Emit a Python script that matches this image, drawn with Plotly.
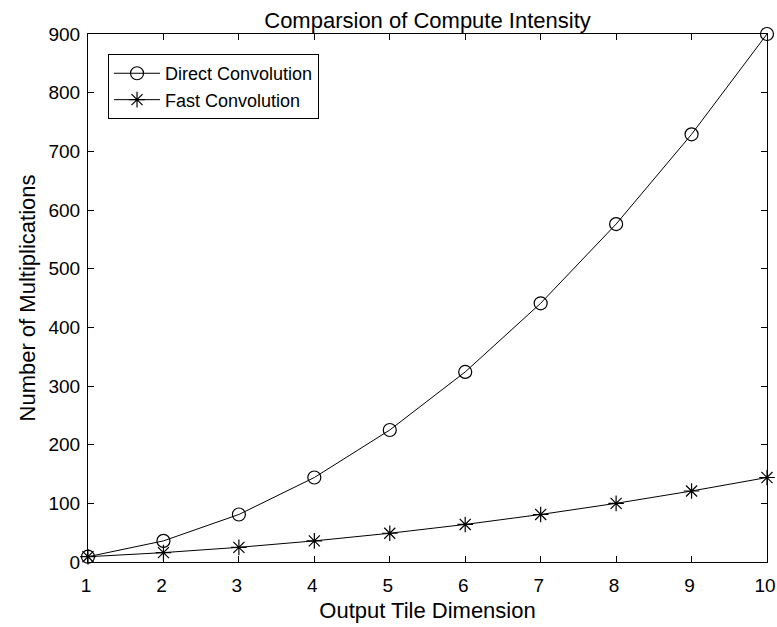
import plotly.graph_objects as go

tile_dim = [1, 2, 3, 4, 5, 6, 7, 8, 9, 10]
direct_conv = [9, 36, 81, 144, 225, 324, 441, 576, 729, 900]
fast_conv = [9, 16, 25, 36, 49, 64, 81, 100, 121, 144]
x_ticks = [1, 2, 3, 4, 5, 6, 7, 8, 9, 10]
y_ticks = [0, 100, 200, 300, 400, 500, 600, 700, 800, 900]

FONT = "Liberation Sans, Arial, sans-serif"
W, H = 777, 627

fig = go.Figure()
fig.add_trace(go.Scatter(
    x=tile_dim, y=direct_conv, mode="lines+markers", name="Direct Convolution",
    line=dict(color="black", width=1),
    marker=dict(symbol="circle-open", size=13, color="black", line=dict(width=1.2)),
    cliponaxis=False,
))
fig.add_trace(go.Scatter(
    x=tile_dim, y=fast_conv, mode="lines+markers", name="Fast Convolution",
    line=dict(color="black", width=1),
    marker=dict(symbol="asterisk-open", size=13, color="black", line=dict(width=1.2, color="black")),
    cliponaxis=False,
))

axis_common = dict(
    showgrid=False, zeroline=False, showline=True, linecolor="black", linewidth=1,
    mirror="ticks", ticks="inside", ticklen=6, tickcolor="black",
    tickfont=dict(family=FONT, size=19, color="black"),
    ticklabeloverflow="allow", automargin=False,
)

fig.update_layout(
    width=W, height=H,
    paper_bgcolor="white", plot_bgcolor="white",
    margin=dict(l=88, r=10, t=34, b=65),
    title=dict(text="Comparsion of Compute Intensity", x=0.5, xanchor="center",
               y=1 - 20 / H, yanchor="middle",
               font=dict(family=FONT, size=22, color="black"), xref="paper"),
    xaxis=dict(range=[1, 10], tickvals=x_ticks, ticklabelstandoff=6, ticklabelshift=-2,
               title=dict(text="Output Tile Dimension", font=dict(family=FONT, size=22, color="black"), standoff=7),
               **axis_common),
    yaxis=dict(range=[0, 900], tickvals=y_ticks, ticklabelstandoff=3,
               title=dict(text="Number of Multiplications", font=dict(family=FONT, size=22, color="black"), standoff=6),
               **axis_common),
    legend=dict(x=0.0295, y=0.962, xanchor="left", yanchor="top",
                bgcolor="white", bordercolor="black", borderwidth=1,
                font=dict(family=FONT, size=18, color="black"),
                tracegroupgap=0, itemwidth=46),
    showlegend=True,
)

fig.write_html(
    "out.html",
    config={"displayModeBar": False},
    post_script="document.body.style.margin='0';document.body.style.overflow='hidden';",
)
